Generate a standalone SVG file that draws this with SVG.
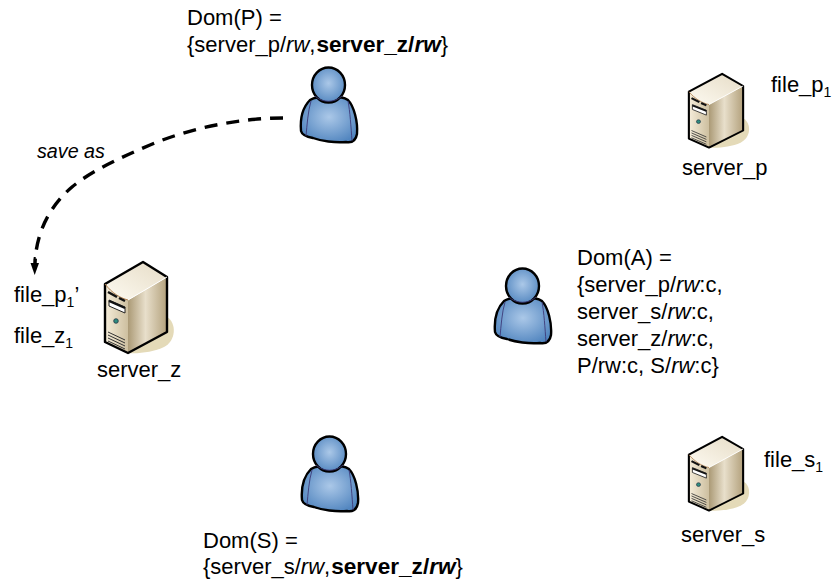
<svg xmlns="http://www.w3.org/2000/svg" width="833" height="586" viewBox="0 0 833 586">
<style>
text{font-family:"Liberation Sans",Arial,sans-serif;font-size:22px;fill:#000}
.sub{font-size:14px}
.it{font-style:italic}
.b{font-weight:bold;font-size:22.600px}
.o{stroke:#000;stroke-width:2.400;stroke-linejoin:round}
</style>
<defs>
<radialGradient id="pb" cx="50%" cy="45%" r="60%"><stop offset="0" stop-color="#abc8e8"/><stop offset="1" stop-color="#5185bf"/></radialGradient>
<linearGradient id="sf" x1="0" y1="0" x2="1" y2="0"><stop offset="0" stop-color="#f5edda"/><stop offset="1" stop-color="#cdbf9f"/></linearGradient>
<linearGradient id="ss" x1="0" y1="0" x2="1" y2="0"><stop offset="0" stop-color="#ab9a76"/><stop offset=".45" stop-color="#e8dfcb"/><stop offset="1" stop-color="#b3a17c"/></linearGradient>
<linearGradient id="st" x1="0" y1="1" x2="1" y2="0"><stop offset="0" stop-color="#fdfaf1"/><stop offset="1" stop-color="#e6dcc6"/></linearGradient>
<symbol id="person" viewBox="0 0 60 78" width="60" height="78" overflow="visible">
<path class="o" d="M11 33C19 28 42 28 49 33C55 39 59 55 58 67C57 73 53 76 47 75C36 76 22 74 14 71C8 70 3 68 2 64C1 52 4 40 11 33Z" fill="url(#pb)"/>
<path d="M12 34C9 44 8 58 7 69M49 34C51 44 52 60 53 74" fill="none" stroke="#3d3a78" stroke-width=".9"/>
<ellipse class="o" cx="29.500" cy="18" rx="16.500" ry="17.500" fill="url(#pb)"/>
<path d="M16 29C23 36 36 36 43 29" fill="none" stroke="#3d3a78" stroke-width=".9"/>
</symbol>
<symbol id="server" viewBox="0 0 72 94" width="72" height="94" overflow="visible">
<path d="M63 56C73 62 72 80 60 86C50 91 34 93 24 92L40 60Z" fill="#e4dab8"/>
<path d="M24 39L63 16V71L24 92Z" fill="url(#ss)"/>
<path d="M1 23C8 32 16 37 24 39V92L1 81Z" fill="url(#sf)"/>
<path d="M1 23L39 1L63 16L24 39C16 37 8 32 1 23Z" fill="url(#st)"/>
<path class="o" fill="none" d="M1 23L39 1L63 16V71L24 92L1 81Z"/>
<path d="M1 23C8 32 16 37 24 39" fill="none" stroke="#b07f4f" stroke-width="1"/>
<path d="M24 39L63 16" fill="none" stroke="#fff" stroke-width="1"/>
<path d="M4 31L13 36M15 37L21 40" stroke="#111" stroke-width="2.500" fill="none"/>
<path d="M5 39L21 46V52L5 45Z" fill="#fff" stroke="#222" stroke-width="1"/>
<path d="M5 40L21 47" stroke="#111" stroke-width="2"/>
<circle cx="12" cy="60" r="2.300" fill="#2f8d80" stroke="#234" stroke-width=".8"/>
<path d="M4 71L21 79M4 74L21 82M4 77L21 85M4 80L21 88" stroke="#333" stroke-width="1" fill="none"/>
</symbol>
</defs>
<g id="connectors">
<path d="M283 118C240 118 190 128 150 145C115 160 90 172 72 187C52 204 36 230 35 264" fill="none" stroke="#000" stroke-width="3.400" stroke-dasharray="13 9"/>
<path d="M30.500 263L39 263L34.700 275Z" fill="#000"/>
<path d="M34.700 257V265" stroke="#000" stroke-width="2"/>
<text class="it" x="37" y="158" style="font-size:19.700px">save as</text>
</g>
<g id="user_P"><use href="#person" x="299" y="67"/>
<text x="187" y="25">Dom(P) =</text>
<text x="187" y="52">{server_p/<tspan class="it">rw</tspan>,<tspan class="b" dx="1">server_z/<tspan class="it">rw</tspan></tspan>}</text></g>
<g id="user_A"><use href="#person" x="493" y="268"/>
<text x="577" y="265">Dom(A) =</text>
<text x="577" y="292">{server_p/<tspan class="it">rw</tspan>:c,</text>
<text x="577" y="319">server_s/<tspan class="it">rw</tspan>:c,</text>
<text x="577" y="346">server_z/<tspan class="it">rw</tspan>:c,</text>
<text x="577" y="373">P/rw:c, S/<tspan class="it">rw</tspan>:c}</text></g>
<g id="user_S"><use href="#person" x="300" y="436"/>
<text x="203" y="548">Dom(S) =</text>
<text x="203" y="574">{server_s/<tspan class="it">rw</tspan>,<tspan class="b" dx="1">server_z/<tspan class="it">rw</tspan></tspan>}</text></g>
<g id="server_p"><use href="#server" transform="translate(688 73) scale(.875 .81)"/>
<text x="682" y="175">server_p</text>
<text x="771" y="92">file_p<tspan class="sub" dy="5">1</tspan></text></g>
<g id="server_s"><use href="#server" transform="translate(688 436) scale(.875 .81)"/>
<text x="681" y="542">server_s</text>
<text x="764" y="467">file_s<tspan class="sub" dy="5">1</tspan></text></g>
<g id="server_z"><use href="#server" x="104" y="261"/>
<text x="97" y="377">server_z</text>
<text x="14" y="302">file_p<tspan class="sub" dy="5">1</tspan><tspan dy="-5">’</tspan></text>
<text x="14" y="343">file_z<tspan class="sub" dy="5">1</tspan></text></g>
</svg>
